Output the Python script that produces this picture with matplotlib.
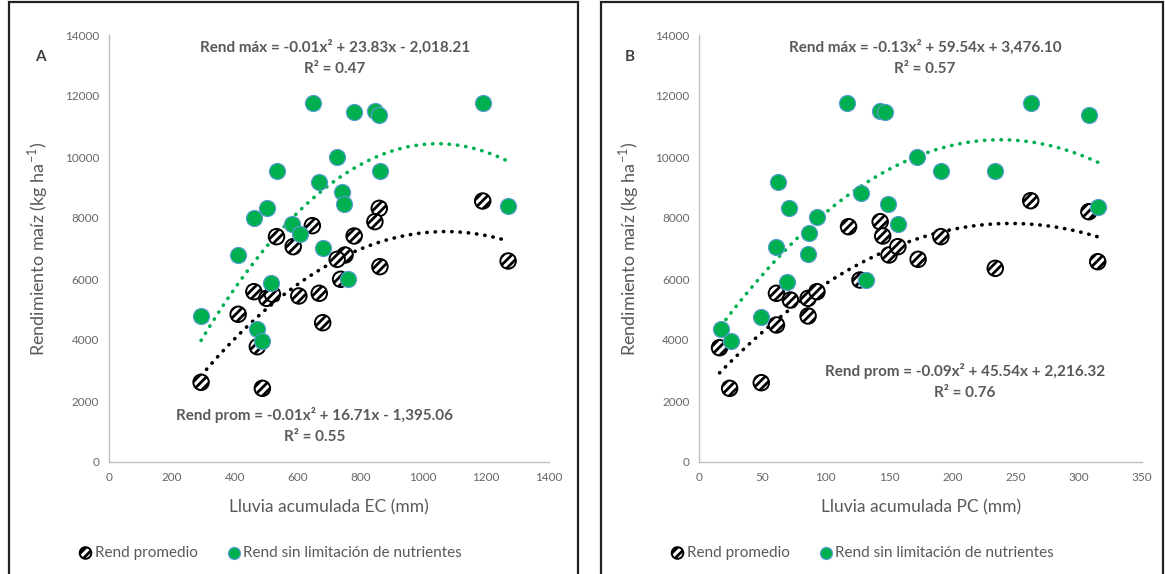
import numpy as np
import matplotlib
matplotlib.use("Agg")
import matplotlib.pyplot as plt
from matplotlib.patches import Rectangle

plt.rcParams['font.family'] = ['Lato', 'DejaVu Sans']
plt.rcParams['mathtext.fontset'] = 'custom'
plt.rcParams['mathtext.rm'] = 'Lato'
plt.rcParams['hatch.linewidth'] = 2.0

# ---- data, panel A (lluvia acumulada EC) ----
a_max_x = [650, 780, 846, 860, 726, 535, 862, 669, 740, 748, 504, 461,
           583, 608, 411, 680, 514, 761, 293, 472, 488, 1189, 1270]
a_max_y = [11760, 11485, 11520, 11377, 10010, 9541, 9541, 9190, 8842, 8449, 8338, 8010,
           7803, 7466, 6787, 7026, 5880, 5990, 4787, 4360, 3977, 11760, 8393]
a_prom_x = [647, 533, 586, 860, 846, 780, 751, 726, 862, 737, 461, 502,
            520, 604, 669, 411, 680, 472, 293, 488, 1189, 1270]
a_prom_y = [7748, 7388, 7060, 8317, 7880, 7410, 6787, 6645, 6404, 5990, 5584, 5366,
            5500, 5443, 5531, 4843, 4567, 3780, 2613, 2416, 8557, 6590]
a_max_coef = [-0.0114, 23.83, -2018.21]
a_prom_coef = [-0.0078, 16.71, -1395.06]

# ---- data, panel B (lluvia acumulada PC) ----
b_max_x = [117, 143, 147, 172, 62, 71, 93, 128, 149, 87, 157, 61,
           86, 132, 69, 49, 17, 25, 191, 234, 262, 308, 315]
b_max_y = [11780, 11520, 11485, 10010, 9190, 8338, 8022, 8830, 8449, 7498, 7803, 7060,
           6810, 5967, 5892, 4764, 4360, 3977, 9551, 9551, 11760, 11377, 8371]
b_prom_x = [118, 143, 145, 150, 157, 173, 127, 61, 72, 86, 93, 86,
            61, 16, 24, 49, 191, 234, 262, 308, 315]
b_prom_y = [7715, 7880, 7410, 6787, 7060, 6645, 5967, 5531, 5311, 5366, 5584, 4787,
            4492, 3748, 2416, 2600, 7388, 6350, 8567, 8207, 6567]
b_max_coef = [-0.125, 59.54, 3476.10]
b_prom_coef = [-0.0925, 45.54, 2216.32]

GREEN = '#00B050'
GRAY = '#595959'

W, H = 1165, 574
fig = plt.figure(figsize=(W / 100, H / 100), dpi=100)


def fx(px):
    return px / W


def fy(py):
    return 1 - py / H


# panel frames
for x0, x1 in [(9, 578), (601, 1163)]:
    fig.patches.append(Rectangle((fx(x0), fy(H + 5)), fx(x1 - x0), fy(2) - fy(H + 5),
                                 transform=fig.transFigure, fill=False,
                                 edgecolor='#222222', linewidth=1.6))


def panel(rect, xmax, xstep, mx, my, px_, py_, cmax, cprom,
          eq_max, r_max, pos_max, eq_prom, r_prom, pos_prom, letter, xlabel,
          leg_cx, ylab_x):
    ax = fig.add_axes(rect)
    ax.set_xlim(0, xmax)
    ax.set_ylim(0, 14000)
    ax.set_xticks(np.arange(0, xmax + 1, xstep))
    ax.set_yticks(np.arange(0, 14001, 2000))
    for s in ['top', 'right']:
        ax.spines[s].set_visible(False)
    for s in ['left', 'bottom']:
        ax.spines[s].set_color('#BFBFBF')
        ax.spines[s].set_linewidth(1.0)
    ax.tick_params(length=0, labelsize=8.5, colors='#666666', pad=7)

    sp = ax.scatter(px_, py_, s=125, facecolors='white', edgecolors='black',
                    hatch='////', linewidths=1.4, zorder=3)
    sm = ax.scatter(mx, my, s=135, color=GREEN, edgecolors='#5B9BD5',
                    linewidths=0.8, zorder=4)

    xs = np.linspace(min(mx), max(mx), 200)
    ax.plot(xs, np.polyval(cmax, xs), color=GREEN, lw=2.6,
            linestyle=(0, (0.1, 2.2)), dash_capstyle='round', zorder=2)
    xs = np.linspace(min(px_), max(px_), 200)
    ax.plot(xs, np.polyval(cprom, xs), color='black', lw=2.6,
            linestyle=(0, (0.1, 2.2)), dash_capstyle='round', zorder=2)

    tkw = dict(transform=fig.transFigure, ha='center', va='center',
               fontsize=11, fontweight='bold', color=GRAY)
    fig.text(fx(pos_max[0]), fy(pos_max[1]), eq_max, **tkw)
    fig.text(fx(pos_max[0]), fy(pos_max[1] + 22), r_max, **tkw)
    fig.text(fx(pos_prom[0]), fy(pos_prom[1]), eq_prom, **tkw)
    fig.text(fx(pos_prom[0]), fy(pos_prom[1] + 22), r_prom, **tkw)
    fig.text(fx(letter[1]), fy(57), letter[0], transform=fig.transFigure,
             ha='center', va='center', fontsize=11, fontweight='bold', color='#404040')

    ax.set_xlabel(xlabel, fontsize=12.5, color=GRAY)
    ax.xaxis.set_label_coords(0.5, -0.088)
    ax.set_ylabel('Rendimiento maíz (kg ha$^{-1}$)', fontsize=13, color=GRAY)
    ax.yaxis.set_label_coords(ylab_x, 0.5)

    fig.legend([sp, sm], ['Rend promedio', 'Rend sin limitación de nutrientes'],
               loc='center', bbox_to_anchor=(fx(leg_cx), fy(553)), ncol=2,
               frameon=False, fontsize=11, labelcolor=GRAY, handletextpad=0.1,
               columnspacing=1.9, handlelength=1.0, markerscale=0.75)
    return ax


panel([fx(109), fy(462), fx(440), fy(35) - fy(462)], 1400, 200,
      a_max_x, a_max_y, a_prom_x, a_prom_y, a_max_coef, a_prom_coef,
      'Rend máx = -0.01x² + 23.83x - 2,018.21', 'R² = 0.47', (335, 47),
      'Rend prom = -0.01x² + 16.71x - 1,395.06', 'R² = 0.55', (315, 415),
      ('A', 40), 'Lluvia acumulada EC (mm)', 270, -0.134)

panel([fx(699.3), fy(462), fx(442.7), fy(35) - fy(462)], 350, 50,
      b_max_x, b_max_y, b_prom_x, b_prom_y, b_max_coef, b_prom_coef,
      'Rend máx = -0.13x² + 59.54x + 3,476.10', 'R² = 0.57', (925, 47),
      'Rend prom = -0.09x² + 45.54x + 2,216.32', 'R² = 0.76', (965, 371),
      ('B', 630), 'Lluvia acumulada PC (mm)', 862, -0.132)

fig.savefig('out.png', dpi=100)
